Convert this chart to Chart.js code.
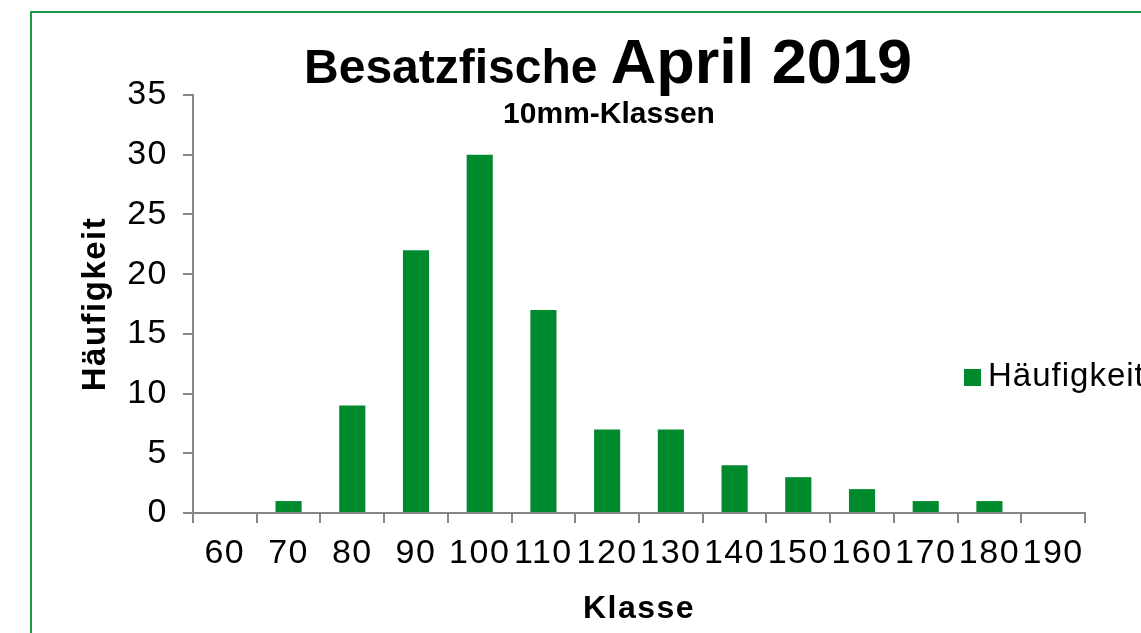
<!DOCTYPE html>
<html>
<head>
<meta charset="utf-8">
<script src="https://cdn.jsdelivr.net/npm/chart.js@4.4.1/dist/chart.umd.min.js"></script>
<style>
  html, body { margin: 0; padding: 0; background: #ffffff; overflow: hidden; }
  #wrap { position: relative; width: 1141px; height: 633px; }
  #frame { position: absolute; left: 30px; top: 11px; width: 1200px; height: 700px;
           border: 2px solid #1f9a45; box-sizing: border-box; pointer-events: none; }
  canvas { position: absolute; left: 0; top: 0; }
</style>
</head>
<body>
<div id="wrap">
  <div id="frame"></div>
  <canvas id="c" width="1141" height="633"></canvas>
</div>
<script>
// ---- data ----
const categories = ['60', '70', '80', '90', '100', '110', '120', '130', '140', '150', '160', '170', '180', '190'];
const frequencies = [0, 1, 9, 22, 30, 17, 7, 7, 4, 3, 2, 1, 1, 0];
const yMin = 0;
const yMax = 35;
const yStep = 5;
const titleMain = 'Besatzfische';
const titleDate = 'April 2019';
const subtitleText = '10mm-Klassen';
const seriesLabel = 'Häufigkeit';
const xAxisTitle = 'Klasse';
const yAxisTitle = 'Häufigkeit';

const FONT = '"Liberation Sans", Arial, Helvetica, sans-serif';
const BAR_COLOR = '#008a2e';
const AXIS_COLOR = '#878787';

const spacingPlugin = {
  id: 'spacing',
  beforeDraw(chart) {
    chart.ctx.letterSpacing = '1.5px';
  }
};

const titlePlugin = {
  id: 'mixedTitle',
  afterDraw(chart) {
    const ctx = chart.ctx;
    ctx.save();
    ctx.letterSpacing = '0px';
    ctx.fillStyle = '#000';
    ctx.textAlign = 'left';
    ctx.textBaseline = 'alphabetic';
    ctx.font = 'bold 48px ' + FONT;
    const w1 = ctx.measureText(titleMain + ' ').width;
    ctx.font = 'bold 63px ' + FONT;
    const w2 = ctx.measureText(titleDate).width;
    const cx = 608;
    const x0 = cx - (w1 + w2) / 2;
    ctx.font = 'bold 48px ' + FONT;
    ctx.fillText(titleMain + ' ', x0, 83);
    ctx.font = 'bold 63px ' + FONT;
    ctx.fillText(titleDate, x0 + w1, 83);
    ctx.font = 'bold 30px ' + FONT;
    ctx.textAlign = 'center';
    ctx.fillText(subtitleText, 609, 123);
    ctx.restore();
  }
};

const legendPlugin = {
  id: 'sideLegend',
  afterDraw(chart) {
    const ctx = chart.ctx;
    const ds = chart.data.datasets[0];
    ctx.save();
    ctx.letterSpacing = '1px';
    ctx.fillStyle = ds.backgroundColor;
    ctx.fillRect(964, 369, 17, 17);
    ctx.fillStyle = '#000';
    ctx.font = '33px ' + FONT;
    ctx.textAlign = 'left';
    ctx.textBaseline = 'middle';
    ctx.fillText(ds.label, 988, 377);
    ctx.restore();
  }
};

new Chart(document.getElementById('c'), {
  type: 'bar',
  data: {
    labels: categories,
    datasets: [{
      label: seriesLabel,
      data: frequencies,
      backgroundColor: BAR_COLOR,
      borderWidth: 0,
      barPercentage: 0.41,
      categoryPercentage: 1.0
    }]
  },
  options: {
    responsive: false,
    animation: false,
    events: [],
    layout: { padding: { left: 70, right: 56, top: 95, bottom: 0 } },
    plugins: {
      legend: { display: false },
      title: { display: false },
      tooltip: { enabled: false }
    },
    scales: {
      x: {
        offset: true,
        grid: { display: true, drawOnChartArea: false, drawTicks: true, tickLength: 10,
                color: AXIS_COLOR, lineWidth: 2, offset: true },
        border: { display: true, color: AXIS_COLOR, width: 2 },
        ticks: { color: '#000', font: { family: FONT, size: 34 }, padding: 10,
                 autoSkip: false, maxRotation: 0, minRotation: 0 },
        title: { display: true, text: xAxisTitle, color: '#000',
                 font: { family: FONT, size: 32, weight: 'bold' }, padding: { top: 0, bottom: 5 } },
        afterFit(scale) { scale.height = 120; }
      },
      y: {
        min: yMin,
        max: yMax,
        grid: { display: true, drawOnChartArea: false, drawTicks: true, tickLength: 10,
                color: AXIS_COLOR, lineWidth: 2 },
        border: { display: true, color: AXIS_COLOR, width: 2 },
        ticks: { stepSize: yStep, color: '#000', font: { family: FONT, size: 34 }, padding: 15 },
        title: { display: true, text: yAxisTitle, color: '#000',
                 font: { family: FONT, size: 33, weight: 'bold' }, padding: { top: 6, bottom: 0 } },
        afterFit(scale) { scale.width = 123; }
      }
    }
  },
  plugins: [spacingPlugin, titlePlugin, legendPlugin]
});
</script>
</body>
</html>
